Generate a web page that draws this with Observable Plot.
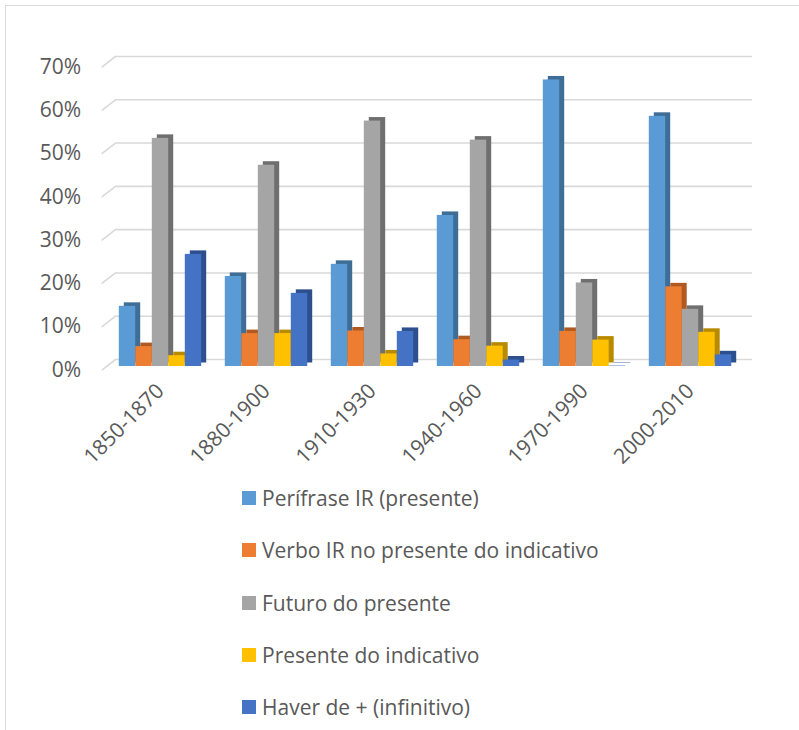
<!DOCTYPE html>
<html>
<head>
<meta charset="utf-8">
<script src="https://cdn.jsdelivr.net/npm/d3@7"></script>
<script src="https://cdn.jsdelivr.net/npm/@observablehq/plot@0.6"></script>
<style>
  html, body { margin: 0; padding: 0; background: #fff; }
  body { width: 799px; height: 730px; position: relative; overflow: hidden; font-family: "Open Sans", sans-serif; }
  #frame { position: absolute; left: 5px; top: 5px; width: 820px; height: 760px; border-left: 1.5px solid #d9d9d9; border-top: 1.5px solid #d9d9d9; }
  #chart { position: absolute; left: 0; top: 0; }
  #legend { position: absolute; left: 242px; top: 472px; }
  .row { height: 52.25px; display: flex; align-items: center; font-size: 21px; color: #595959; white-space: nowrap; }
  .sw { width: 14px; height: 14px; margin-right: 6px; flex: none; }
</style>
</head>
<body>
<div id="frame"></div>
<div id="chart"></div>
<div id="legend"></div>
<script>
const periods = ["1850-1870", "1880-1900", "1910-1930", "1940-1960", "1970-1990", "2000-2010"];
const seriesNames = [
  "Perífrase IR (presente)",
  "Verbo IR no presente do indicativo",
  "Futuro do presente",
  "Presente do indicativo",
  "Haver de + (infinitivo)"
];
const perifraseIR   = [0.139, 0.208, 0.236, 0.349, 0.662, 0.578];
const verboIR       = [0.046, 0.076, 0.082, 0.062, 0.081, 0.184];
const futuro        = [0.527, 0.465, 0.567, 0.523, 0.193, 0.132];
const presenteInd   = [0.025, 0.076, 0.029, 0.047, 0.061, 0.079];
const haverDe       = [0.259, 0.169, 0.081, 0.015, 0.001, 0.027];
const yTicks = [0, 0.1, 0.2, 0.3, 0.4, 0.5, 0.6, 0.7];

const seriesValues = [perifraseIR, verboIR, futuro, presenteInd, haverDe];
const frontColors = ["#5B9BD5", "#ED7D31", "#A5A5A5", "#FFC000", "#4472C4"];
const sideColors  = ["#3E6D96", "#B05A21", "#6F6F6F", "#B88A00", "#2D4F8E"];

const rows = seriesValues.map(vals => periods.map((p, i) => ({period: p, value: vals[i]})));

const pad = 11.8, bw = 16.5;
const sideMarks = rows.map((data, j) => Plot.barY(data, {
  x: "period", y: "value", fill: sideColors[j],
  insetLeft: pad + bw * j, insetRight: pad + bw * (4 - j),
  dx: 5, dy: -3.5
}));
const frontMarks = rows.map((data, j) => Plot.barY(data, {
  x: "period", y: "value", fill: frontColors[j],
  insetLeft: pad + bw * j, insetRight: pad + bw * (4 - j)
}));

const diag = {draw(context, l) { context.moveTo(0, 0); context.lineTo(0, -l); }};

const chart = Plot.plot({
  width: 799,
  height: 470,
  marginLeft: 106.5,
  marginRight: 56,
  marginTop: 63,
  marginBottom: 104,
  style: {fontFamily: "'Open Sans', sans-serif", fontSize: "21px", color: "#595959", background: "transparent"},
  x: {domain: periods, padding: 0, label: null},
  y: {domain: [0, 0.7], label: null},
  marks: [
    Plot.ruleY(yTicks, {y: d => d, stroke: "#d9d9d9", strokeWidth: 1.6, dx: 9, dy: -7}),
    Plot.vector(yTicks, {y: d => d, frameAnchor: "left", length: 16.8, rotate: 52.2, anchor: "start",
      shape: diag, stroke: "#d9d9d9", strokeWidth: 1.6, dx: -4.8, dy: 3.3}),
    ...sideMarks,
    ...frontMarks,
    Plot.axisY({ticks: yTicks, tickFormat: d3.format(".0%"), tickSize: 0, tickPadding: 26, dy: 3.5, fill: "#595959"}),
    Plot.axisX({tickRotate: -45, tickSize: 0, tickPadding: 21, fill: "#595959"})
  ]
});
document.getElementById("chart").appendChild(chart);

const legend = document.getElementById("legend");
seriesNames.forEach((name, j) => {
  const row = document.createElement("div");
  row.className = "row";
  const sw = document.createElement("span");
  sw.className = "sw";
  sw.style.background = frontColors[j];
  const t = document.createElement("span");
  t.textContent = name;
  row.appendChild(sw);
  row.appendChild(t);
  legend.appendChild(row);
});
</script>
</body>
</html>
